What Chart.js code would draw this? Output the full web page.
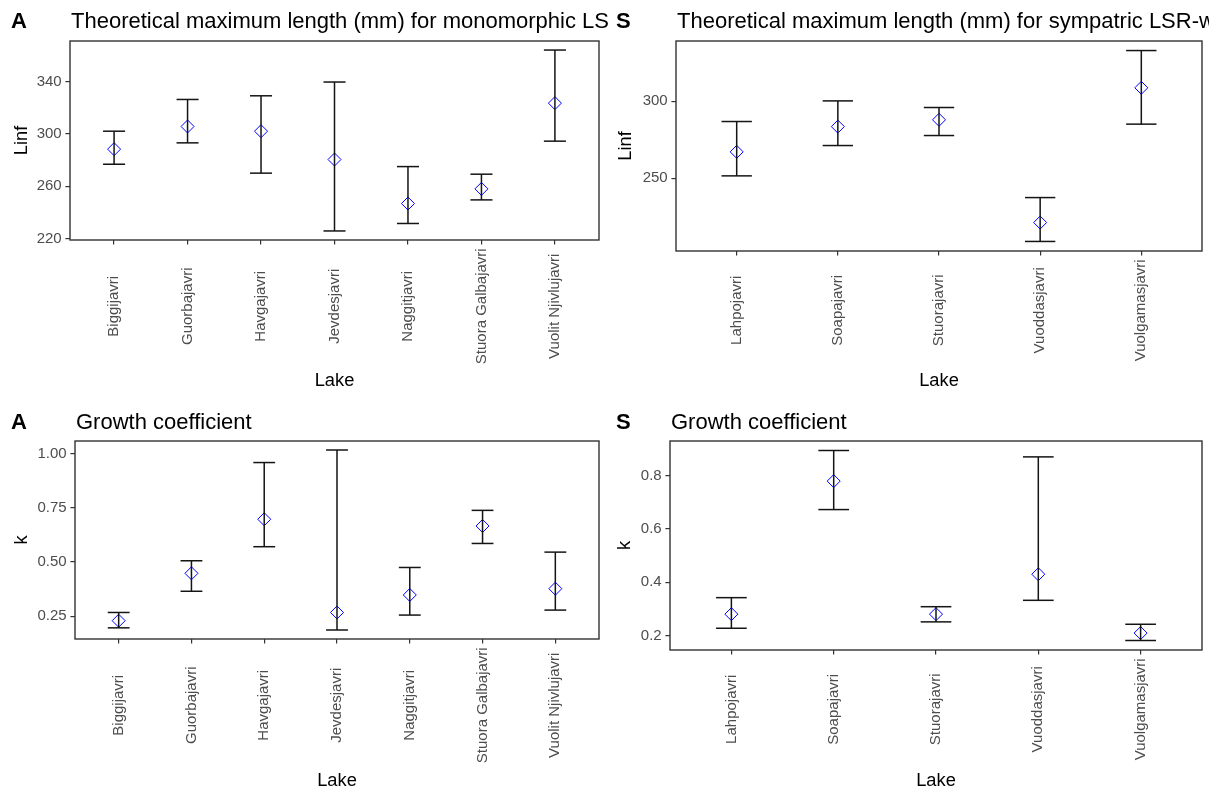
<!DOCTYPE html>
<html>
<head>
<meta charset="utf-8">
<title>Growth parameters by lake</title>
<script src="https://cdn.jsdelivr.net/npm/chart.js@4/dist/chart.umd.min.js"></script>
<style>
  html, body { margin: 0; padding: 0; background: #ffffff; }
  #fig { position: relative; width: 1225px; height: 793px; overflow: hidden; background: #ffffff; }
  #fig canvas { position: absolute; }
</style>
</head>
<body>
<div id="fig"></div>
<script>
// ---- data -------------------------------------------------------------
const lakesMono = ['Biggijavri', 'Guorbajavri', 'Havgajavri', 'Jevdesjavri', 'Naggitjavri', 'Stuora Galbajavri', 'Vuolit Njivlujavri'];
const lakesSym  = ['Lahpojavri', 'Soapajavri', 'Stuorajavri', 'Vuoddasjavri', 'Vuolgamasjavri'];

// asymptotic length (mm): estimate with lower / upper confidence limits
const linfMono      = [288.3, 305.6, 302.0, 280.4, 246.8, 258.0, 323.4];
const linfMonoLower = [276.8, 293.1, 270.0, 225.9, 231.6, 249.6, 294.4];
const linfMonoUpper = [302.0, 326.2, 329.0, 339.5, 275.0, 269.2, 363.9];

const linfSym      = [267.1, 283.5, 287.9, 221.2, 308.7];
const linfSymLower = [251.5, 271.2, 277.7, 208.9, 285.1];
const linfSymUpper = [286.8, 300.2, 295.9, 237.4, 332.9];

// growth coefficient k: estimate with lower / upper confidence limits
const kMono      = [0.229, 0.448, 0.698, 0.267, 0.348, 0.667, 0.377];
const kMonoLower = [0.196, 0.365, 0.571, 0.186, 0.255, 0.586, 0.278];
const kMonoUpper = [0.267, 0.506, 0.960, 1.018, 0.475, 0.739, 0.546];

const kSym      = [0.280, 0.780, 0.280, 0.430, 0.209];
const kSymLower = [0.227, 0.673, 0.251, 0.332, 0.181];
const kSymUpper = [0.342, 0.895, 0.308, 0.871, 0.242];

// y tick labels
const linfMonoTicks = [220, 260, 300, 340];
const linfSymTicks  = [250, 300];
const kMonoTicks    = [0.25, 0.50, 0.75, 1.00];
const kSymTicks     = [0.2, 0.4, 0.6, 0.8];

// ---- styling ----------------------------------------------------------
const FONT = '"Liberation Sans", Arial, Helvetica, sans-serif';
const TITLE_SIZE = 22;
const AXIS_TITLE_SIZE = 18.3;
const TICK_SIZE = 15;
const TICK_LEN = 4.6;
const TICK_PAD = 3.7;
const INK = '#000000';
const BAR_INK = '#141414';
const TICK_INK = '#4D4D4D';
const FRAME = '#333333';

Chart.defaults.font.family = FONT;

// ---- panel layout (canvas box and plot area in canvas pixels) ---------
const panels = [
  { tag: 'A', title: 'Theoretical maximum length (mm) for monomorphic LSR-whitefish',
    labels: lakesMono, est: linfMono, lower: linfMonoLower, upper: linfMonoUpper,
    ticks: linfMonoTicks, decimals: 0, yTitle: 'Linf',
    box: { x: 0, y: 0, w: 608, h: 396 }, area: { left: 70, top: 41, right: 599, bottom: 240 },
    tagX: 11, titleY: 28, yTitlePad: 11, xTitlePad: 4 },
  { tag: 'S', title: 'Theoretical maximum length (mm) for sympatric LSR-whitefish',
    labels: lakesSym, est: linfSym, lower: linfSymLower, upper: linfSymUpper,
    ticks: linfSymTicks, decimals: 0, yTitle: 'Linf',
    box: { x: 608, y: 0, w: 601, h: 396 }, area: { left: 68, top: 41, right: 594, bottom: 251 },
    tagX: 8, titleY: 28, yTitlePad: 6.6, xTitlePad: 4 },
  { tag: 'A', title: 'Growth coefficient',
    labels: lakesMono, est: kMono, lower: kMonoLower, upper: kMonoUpper,
    ticks: kMonoTicks, decimals: 2, yTitle: 'k',
    box: { x: 0, y: 396, w: 608, h: 397 }, area: { left: 75, top: 45, right: 599, bottom: 243 },
    tagX: 11, titleY: 33, yTitlePad: 11, xTitlePad: 0.8 },
  { tag: 'S', title: 'Growth coefficient',
    labels: lakesSym, est: kSym, lower: kSymLower, upper: kSymUpper,
    ticks: kSymTicks, decimals: 1, yTitle: 'k',
    box: { x: 608, y: 396, w: 601, h: 397 }, area: { left: 62, top: 45, right: 594, bottom: 254 },
    tagX: 8, titleY: 33, yTitlePad: 6, xTitlePad: 0.8 }
];

// frame, rotated lake names, tag letter and panel title
function panelDecor(p) {
  return {
    id: 'panelDecor',
    afterDraw(chart) {
      const { ctx, chartArea: a } = chart;
      const xs = chart.scales.x;
      ctx.save();
      ctx.strokeStyle = FRAME;
      ctx.lineWidth = 1.4;
      ctx.strokeRect(a.left, a.top, a.right - a.left, a.bottom - a.top);

      ctx.font = TICK_SIZE + 'px ' + FONT;
      ctx.fillStyle = TICK_INK;
      const widest = Math.max(...p.labels.map(t => ctx.measureText(t).width));
      const cy = a.bottom + TICK_LEN + TICK_PAD + widest / 2;
      ctx.textAlign = 'center';
      ctx.textBaseline = 'middle';
      p.labels.forEach((t, i) => {
        ctx.save();
        ctx.translate(xs.getPixelForValue(i), cy);
        ctx.rotate(-Math.PI / 2);
        ctx.fillText(t, 0, 0);
        ctx.restore();
      });

      ctx.textAlign = 'left';
      ctx.textBaseline = 'alphabetic';
      ctx.fillStyle = INK;
      ctx.font = 'bold ' + TITLE_SIZE + 'px ' + FONT;
      ctx.fillText(p.tag, p.tagX, p.titleY);
      ctx.font = TITLE_SIZE + 'px ' + FONT;
      ctx.fillText(p.title, a.left + 1, p.titleY);
      ctx.restore();
    }
  };
}

// half width of an error-bar cap: 0.15 of a category step
function capHalfWidth(chart) {
  const xs = chart.scales.x;
  if (!xs) return 10;
  return Math.abs(xs.getPixelForValue(0.15) - xs.getPixelForValue(0));
}

function buildPanel(p) {
  const canvas = document.createElement('canvas');
  canvas.width = p.box.w;
  canvas.height = p.box.h;
  canvas.style.left = p.box.x + 'px';
  canvas.style.top = p.box.y + 'px';
  canvas.style.width = p.box.w + 'px';
  canvas.style.height = p.box.h + 'px';
  document.getElementById('fig').appendChild(canvas);

  const n = p.labels.length;
  const lo = Math.min(...p.lower);
  const hi = Math.max(...p.upper);
  const expand = (hi - lo) * 0.05;

  const frameGrid = {
    display: true, drawOnChartArea: false, drawTicks: true,
    tickLength: TICK_LEN, color: FRAME, lineWidth: 1.2
  };

  new Chart(canvas, {
    type: 'scatter',
    data: {
      datasets: [
        { // vertical whiskers, one segment per lake (drawn on top)
          data: p.lower.flatMap((v, i) => [{ x: i, y: v }, { x: i, y: p.upper[i] }, { x: i, y: null }]),
          showLine: true, spanGaps: false, pointRadius: 0,
          borderColor: BAR_INK, borderWidth: 1.5
        },
        { // caps at both confidence limits
          data: p.lower.concat(p.upper).map((v, i) => ({ x: i % n, y: v })),
          pointStyle: 'line', pointRadius: c => capHalfWidth(c.chart),
          pointBorderColor: BAR_INK, pointBorderWidth: 1.5
        },
        { // point estimates
          data: p.est.map((v, i) => ({ x: i, y: v })),
          pointStyle: 'rectRot', pointRadius: 6.5,
          pointBorderColor: '#0000FF', pointBackgroundColor: 'rgba(0,0,0,0)',
          pointBorderWidth: 1
        }
      ]
    },
    options: {
      responsive: false,
      animation: false,
      events: [],
      layout: {
        autoPadding: false,
        padding: { left: 0, top: p.area.top, right: p.box.w - p.area.right, bottom: 0 }
      },
      plugins: { legend: { display: false }, tooltip: { enabled: false } },
      scales: {
        x: {
          type: 'linear', bounds: 'data', min: -0.6, max: n - 0.4,
          afterBuildTicks: s => { s.ticks = p.labels.map((_, i) => ({ value: i })); },
          afterFit: s => { s.height = p.box.h - p.area.bottom; },
          ticks: { display: false },
          grid: frameGrid,
          border: { display: false },
          title: {
            display: true, text: 'Lake', color: INK,
            font: { size: AXIS_TITLE_SIZE }, padding: { top: 0, bottom: p.xTitlePad }
          }
        },
        y: {
          type: 'linear', bounds: 'data', min: lo - expand, max: hi + expand,
          afterBuildTicks: s => { s.ticks = p.ticks.map(v => ({ value: v })); },
          afterFit: s => { s.width = p.area.left; },
          ticks: {
            color: TICK_INK, font: { size: TICK_SIZE }, padding: TICK_PAD,
            autoSkip: false, callback: v => Number(v).toFixed(p.decimals)
          },
          grid: frameGrid,
          border: { display: false },
          title: {
            display: true, text: p.yTitle, color: INK,
            font: { size: AXIS_TITLE_SIZE }, padding: { top: p.yTitlePad, bottom: 0 }
          }
        }
      }
    },
    plugins: [panelDecor(p)]
  });
}

panels.forEach(buildPanel);
</script>
</body>
</html>
